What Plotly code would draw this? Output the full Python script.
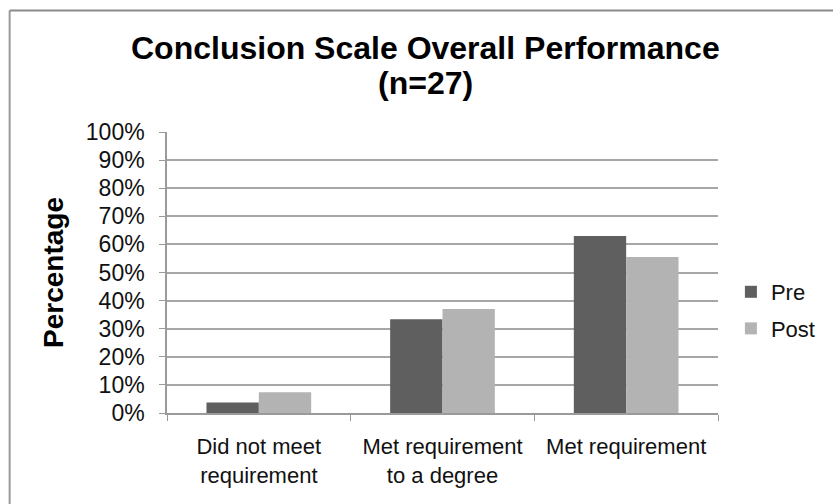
import plotly.graph_objects as go

# Survey outcome categories and share of the 27 respondents in each
categories = ["Did not meet<br>requirement", "Met requirement<br>to a degree", "Met requirement"]
pre_values = [1 / 27, 9 / 27, 17 / 27]
post_values = [2 / 27, 10 / 27, 15 / 27]
series_names = ["Pre", "Post"]
series_colors = ["#5f5f5f", "#b3b3b3"]
y_ticks = [i / 10 for i in range(11)]
title_lines = ["Conclusion Scale Overall Performance", "(n=27)"]

FONT = "Liberation Sans, Arial, sans-serif"
W, H = 833, 504
L, R, T, B = 167, 111, 132, 91

fig = go.Figure()
for name, vals, col in zip(series_names, [pre_values, post_values], series_colors):
    fig.add_trace(go.Bar(
        x=categories, y=vals, name=name, marker_color=col,
        marker_line_width=0, legendgroup=name,
    ))

plot_w = W - L - R
plot_h = H - T - B

# outer chart-area frame (open on the right/bottom edges of the page)
fx0 = (8.5 - L) / plot_w
fy1 = 1 + (T - 10.5) / plot_h
fig.add_shape(type="line", xref="paper", yref="paper", x0=fx0, x1=fx0, y0=-2, y1=fy1,
              line=dict(color="#9a9a9a", width=2))
fig.add_shape(type="line", xref="paper", yref="paper", x0=fx0, x1=3, y0=fy1, y1=fy1,
              line=dict(color="#8a8a8a", width=2))

# two-line chart title, placed line by line for tight spacing
for line, yc in zip(title_lines, [48, 83]):
    fig.add_annotation(
        text=f"<b>{line}</b>", xref="paper", yref="paper",
        x=(427 - L) / plot_w, y=1 + (T - yc) / plot_h,
        xanchor="center", yanchor="middle", showarrow=False,
        font=dict(size=32, family=FONT, color="#000000"),
    )

fig.update_layout(
    width=W, height=H,
    margin=dict(l=L, r=R, t=T, b=B, pad=0),
    paper_bgcolor="white", plot_bgcolor="white",
    font=dict(family=FONT, color="#111111", size=22),
    barmode="group", bargap=0.43, bargroupgap=0,
    showlegend=True,
    legend=dict(
        x=1 + (735 - (W - R)) / plot_w, xanchor="left",
        y=1 - (271 - T) / plot_h, yanchor="top",
        font=dict(size=22, family=FONT, color="#111111"),
        traceorder="grouped", tracegroupgap=5,
        bgcolor="rgba(0,0,0,0)",
    ),
    xaxis=dict(
        showline=True, linecolor="#9a9a9a", linewidth=1.5,
        ticks="outside", tickson="boundaries", ticklen=6, tickcolor="#9a9a9a",
        tickfont=dict(size=22, family=FONT, color="#111111"),
        ticklabelstandoff=13,
        showgrid=False,
    ),
    yaxis=dict(
        range=[0, 1], tickvals=y_ticks, tickformat=".0%",
        showline=True, linecolor="#9a9a9a", linewidth=1.5,
        ticks="outside", ticklen=6, tickcolor="#9a9a9a",
        showgrid=True, gridcolor="#a6a6a6", gridwidth=1.5,
        zeroline=False,
        tickfont=dict(size=23, family=FONT, color="#111111"),
        ticklabelstandoff=10,
        title=dict(text="<b>Percentage</b>", standoff=14,
                   font=dict(size=28, family=FONT, color="#000000")),
    ),
)

fig.write_html("out.html")
